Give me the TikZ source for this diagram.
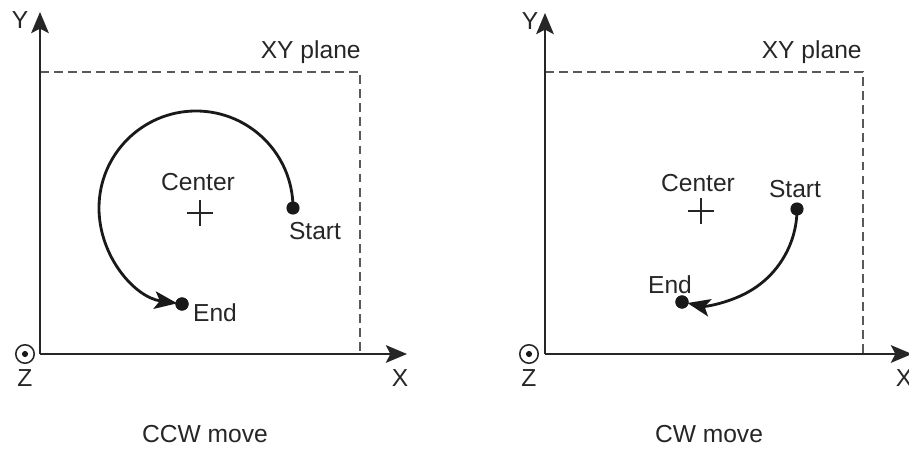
\documentclass[tikz,border=0pt]{standalone}
\usepackage{fontspec}
\setmainfont{Liberation Sans}
\usetikzlibrary{arrows.meta}

\tikzset{
    axis/.style={line width=1.3pt, draw=black!85, -{Stealth[length=12pt, width=10pt, inset=2.5pt]}},
    plane/.style={line width=0.9pt, draw=black!65, dash pattern=on 5pt off 3pt},
    move/.style={line width=1.6pt, draw=black!90, shorten >=3pt, -{Stealth[length=13pt, width=10pt, inset=3pt]}},
    dot/.style={circle, fill=black!90, inner sep=0pt, minimum size=7.5pt},
    zdir/.style={circle, draw=black!85, line width=0.9pt, inner sep=0pt, minimum size=10.5pt},
    zdot/.style={circle, fill=black!90, inner sep=0pt, minimum size=3.5pt},
    lbl/.style={inner sep=0pt, text=black!85, font=\fontsize{14}{16}\selectfont},
    crossmark/.style={line width=0.9pt, draw=black!85}
}

\begin{document}
\begin{tikzpicture}[x=0.02cm, y=0.02cm]
    \useasboundingbox (0, 0) rectangle (909, 449);

    % CCW panel
    \coordinate (o1) at (40, 95);
    \coordinate (ytip1) at (40, 437);
    \coordinate (xtip1) at (407, 95);
    \draw[plane] (40, 377) -- (360, 377) -- (360, 95);
    \draw[axis] (o1) -- (ytip1);
    \draw[axis] (o1) -- (xtip1);
    \node[lbl] (ylab1) at (20, 429) {Y};
    \node[lbl] (xlab1) at (400, 71) {X};
    \node[zdir] (z1) at (25, 95) {};
    \node[zdot] at (z1) {};
    \node[lbl] (zlab1) at (25, 71) {Z};
    \node[lbl, anchor=east] (plane1) at (361, 397) {XY plane};
    \draw[crossmark] (200, 223) -- (200, 249) (187, 236) -- (213, 236);
    \node[lbl] (center1) at (198, 267) {Center};
    \node[dot] (start1) at (293, 241) {};
    \node[dot] (end1) at (182, 145) {};
    \draw[move] (start1.center) arc[start angle=0, end angle=262, radius=97];
    \node[dot] at (end1) {};
    \node[lbl] (startlab1) at (315, 218) {Start};
    \node[lbl] (endlab1) at (215, 136) {End};
    \node[lbl] (cap1) at (205, 15) {CCW move};

    % CW panel
    \coordinate (o2) at (545, 95);
    \coordinate (ytip2) at (545, 436);
    \coordinate (xtip2) at (912, 95);
    \draw[plane] (545, 377) -- (863, 377) -- (863, 95);
    \draw[axis] (o2) -- (ytip2);
    \draw[axis] (o2) -- (xtip2);
    \node[lbl] (ylab2) at (530, 428) {Y};
    \node[lbl] (xlab2) at (904, 71) {X};
    \node[zdir] (z2) at (529, 95) {};
    \node[zdot] at (z2) {};
    \node[lbl] (zlab2) at (529, 71) {Z};
    \node[lbl, anchor=east] (plane2) at (862, 397) {XY plane};
    \draw[crossmark] (701, 225) -- (701, 251) (688, 238) -- (714, 238);
    \node[lbl] (center2) at (698, 266) {Center};
    \node[dot] (start2) at (797, 240) {};
    \node[dot] (end2) at (682, 147) {};
    \draw[move] (start2.center) arc[start angle=0, end angle=-102, radius=95];
    \node[dot] at (end2) {};
    \node[lbl] (startlab2) at (795, 260) {Start};
    \node[lbl] (endlab2) at (670, 164) {End};
    \node[lbl] (cap2) at (709, 15) {CW move};
\end{tikzpicture}
\end{document}
